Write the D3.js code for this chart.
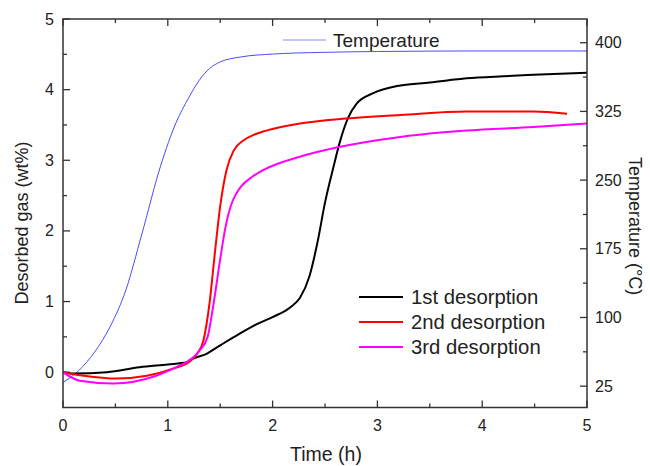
<!DOCTYPE html>
<html><head><meta charset="utf-8">
<script src="https://cdn.jsdelivr.net/npm/d3@7"></script>
<style>body{margin:0;background:#fff}svg{display:block;font-family:"Liberation Sans",Arial,sans-serif}</style>
</head><body><svg id="c" width="650" height="466"></svg>
<script>
// ---- data ----
const xTicks = [0,1,2,3,4,5];
const yTicks = [0,1,2,3,4,5];
const tempTicks = [25,100,175,250,325,400];

const tempTime = [0,0.15,0.3,0.45,0.6,0.75,0.93,1.08,1.2,1.3,1.4,1.5,1.7,2.0,2.5,3,4,5];
const tempVal  = [29,42,62,90,130,190,265,313,340,359,372,379,384.5,387.6,389.5,390.4,391,391];

const d1Time = [0,0.1,0.42,0.73,1.0,1.18,1.21,1.37,1.5,1.69,1.85,2.0,2.17,2.26,2.35,2.43,2.5,2.58,2.64,2.72,2.8,2.96,3.22,3.5,3.85,4.2,4.49,5];
const d1Val  = [0,-0.02,0,0.07,0.11,0.14,0.17,0.26,0.38,0.55,0.68,0.78,0.92,1.05,1.35,1.85,2.4,2.9,3.25,3.6,3.8,3.95,4.06,4.1,4.16,4.19,4.21,4.24];

const d2Time = [0,0.2,0.51,0.8,1.05,1.2,1.28,1.34,1.4,1.45,1.5,1.56,1.63,1.72,1.82,1.94,2.26,2.7,3.22,3.85,4.49,4.81];
const d2Val  = [0,-0.05,-0.09,-0.05,0.05,0.14,0.26,0.45,1.0,1.7,2.35,2.86,3.14,3.28,3.36,3.42,3.52,3.59,3.64,3.69,3.69,3.66];

const d3Time = [0,0.16,0.48,0.89,1.12,1.21,1.3,1.38,1.44,1.5,1.55,1.6,1.65,1.7,1.8,1.91,2.26,2.61,3.22,3.85,4.49,5];
const d3Val  = [0,-0.12,-0.16,-0.05,0.1,0.17,0.3,0.5,1.0,1.6,2.05,2.35,2.52,2.63,2.76,2.86,3.05,3.18,3.33,3.42,3.47,3.52];

const seriesNames = ["1st desorption","2nd desorption","3rd desorption"];
const seriesColors = ["#000000","#ff0000","#ff00ff"];

// ---- layout ----
const L=63,R=587,T=19,B=407.5;
const svg=d3.select("#c");
const x=d3.scaleLinear().domain([0,5]).range([L,R]);
const y=d3.scaleLinear().domain([-0.5,5]).range([B,T]);
const yT=d3.scaleLinear().domain([1.7,425.9]).range([B,T]);

const axisCol="#333";
const gT=svg.append("g").attr("stroke",axisCol).attr("stroke-width",1.3);
const xMinor=d3.range(0.5,5,1);
xTicks.forEach(v=>{gT.append("line").attr("x1",x(v)).attr("x2",x(v)).attr("y1",B).attr("y2",B-7);
  gT.append("line").attr("x1",x(v)).attr("x2",x(v)).attr("y1",T).attr("y2",T+7);});
xMinor.forEach(v=>{gT.append("line").attr("x1",x(v)).attr("x2",x(v)).attr("y1",B).attr("y2",B-4);
  gT.append("line").attr("x1",x(v)).attr("x2",x(v)).attr("y1",T).attr("y2",T+4);});
yTicks.forEach(v=>gT.append("line").attr("x1",L).attr("x2",L+7).attr("y1",y(v)).attr("y2",y(v)));
d3.range(0.5,5,1).forEach(v=>gT.append("line").attr("x1",L).attr("x2",L+4).attr("y1",y(v)).attr("y2",y(v)));
tempTicks.forEach(v=>gT.append("line").attr("x1",R).attr("x2",R-7).attr("y1",yT(v)).attr("y2",yT(v)));
d3.range(62.5,400,75).forEach(v=>gT.append("line").attr("x1",R).attr("x2",R-4).attr("y1",yT(v)).attr("y2",yT(v)));

// lines
const line=(xs,vs,sc)=>d3.line().curve(d3.curveMonotoneX)(xs.map((t,i)=>[x(t),sc(vs[i])]));
svg.append("clipPath").attr("id","cp").append("rect").attr("x",L).attr("y",T).attr("width",R-L).attr("height",B-T);
const gl=svg.append("g").attr("clip-path","url(#cp)").attr("fill","none");
gl.append("path").attr("d",line(tempTime,tempVal,yT)).attr("stroke","#4a4aff").attr("stroke-width",1);
const sets=[[d1Time,d1Val],[d2Time,d2Val],[d3Time,d3Val]];
sets.forEach((s,i)=>gl.append("path").attr("d",line(s[0],s[1],y)).attr("stroke",seriesColors[i]).attr("stroke-width",2));

// frame
svg.append("rect").attr("x",L).attr("y",T).attr("width",R-L).attr("height",B-T).attr("fill","none").attr("stroke",axisCol).attr("stroke-width",1.5);

// tick labels
const tc="#222";
xTicks.forEach(v=>svg.append("text").attr("x",x(v)).attr("y",431).attr("text-anchor","middle").attr("font-size",16).attr("fill",tc).text(v));
yTicks.forEach(v=>svg.append("text").attr("x",54).attr("y",y(v)+5.5).attr("text-anchor","end").attr("font-size",16).attr("fill",tc).text(v));
tempTicks.forEach(v=>svg.append("text").attr("x",595).attr("y",yT(v)+5.5).attr("text-anchor","start").attr("font-size",16).attr("fill",tc).text(v));

// titles
svg.append("text").attr("x",326).attr("y",461).attr("text-anchor","middle").attr("font-size",19.5).attr("fill",tc).text("Time (h)");
svg.append("text").attr("transform","translate(28,223) rotate(-90)").attr("text-anchor","middle").attr("font-size",18).attr("fill",tc).text("Desorbed gas (wt%)");
svg.append("text").attr("transform","translate(629,226) rotate(90)").attr("text-anchor","middle").attr("font-size",18).attr("fill",tc).text("Temperature (°C)");

// legends
svg.append("line").attr("x1",283).attr("x2",326).attr("y1",40).attr("y2",40).attr("stroke","#b0b0ff").attr("stroke-width",1.5);
svg.append("text").attr("x",333).attr("y",47).attr("font-size",19).attr("fill",tc).text("Temperature");
seriesNames.forEach((n,i)=>{
  const yy=297+i*25;
  svg.append("line").attr("x1",359).attr("x2",403).attr("y1",yy).attr("y2",yy).attr("stroke",seriesColors[i]).attr("stroke-width",2);
  svg.append("text").attr("x",411).attr("y",yy+6.5).attr("font-size",20.3).attr("fill",tc).text(n);
});
</script></body></html>
